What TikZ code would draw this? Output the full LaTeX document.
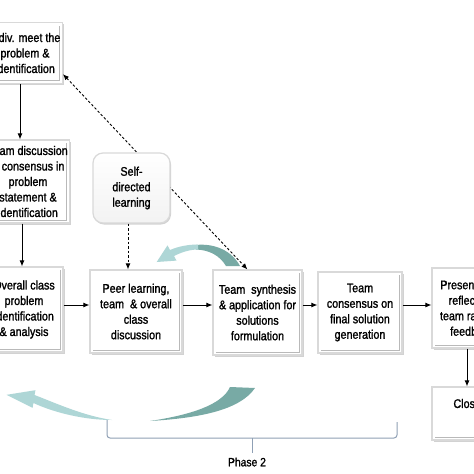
\documentclass[tikz,border=0pt]{standalone}
\usepackage{fontspec}
\newfontfamily\boxfont{Liberation Sans}[FakeStretch=0.86,FakeBold=1.4]
\usetikzlibrary{arrows.meta,shadows,calc}
\definecolor{tealdark}{HTML}{78AAA5}
\definecolor{teallight}{HTML}{AED6D6}
\definecolor{bracecol}{HTML}{8FA0B5}
\begin{document}
\begin{tikzpicture}[x=1pt,y=-1pt,
  box/.style={rectangle, draw=gray!30, line width=1.2pt, fill=white, align=center,
    inner sep=2pt, font=\boxfont\fontsize{12.5}{15.5}\selectfont,
    drop shadow={shadow xshift=1.5pt, shadow yshift=-1.5pt, opacity=0.35, fill=gray},
    path picture={\draw[gray!55, line width=1pt]
      ([shift={(3pt,3pt)}]path picture bounding box.south west) --
      ([shift={(-3pt,3pt)}]path picture bounding box.south east) --
      ([shift={(-3pt,-3pt)}]path picture bounding box.north east);}},
  selfbox/.style={rectangle, rounded corners=10pt, draw=gray!30, line width=1.2pt,
    top color=white, bottom color=gray!10, align=center, inner sep=2pt,
    font=\boxfont\fontsize{12.5}{15.5}\selectfont,
    drop shadow={shadow xshift=1pt, shadow yshift=-1.5pt, opacity=0.35, fill=gray}},
  arr/.style={line width=0.9pt, -{Latex[length=6pt,width=5pt]}},
  dsh/.style={line width=0.9pt, dash pattern=on 2.5pt off 2pt},
  brace/.style={draw=bracecol, line width=1pt}]
\useasboundingbox (0,0) rectangle (474,474);
\clip (0,0) rectangle (474,474);
\fill[white] (0,0) rectangle (474,474);

% curved arrows
\fill[tealdark] (196,245) .. controls (215,243) and (232,251) .. (240,266) -- (226,266)
   .. controls (220,256) and (210,250) .. (196,249.5) -- cycle;
\fill[teallight] (198,244.5) .. controls (188,244.5) and (178,246.5) .. (170,250)
   -- (167.5,245.4) -- (156.7,262) -- (176.5,260.6) -- (174,256)
   .. controls (182,252) and (190,249.5) .. (198,249.5) -- cycle;
\fill[tealdark] (230,387) -- (255,388) .. controls (240,410) and (200,418) .. (150,421)
   .. controls (190,415) and (222,405) .. (230,387) -- cycle;
\fill[teallight] (6.6,394.8) -- (35.4,390.2) -- (34.6,395)
   .. controls (60,405) and (85,416) .. (112,420)
   .. controls (85,420) and (55,413) .. (33.4,403) -- (32.6,407.8) -- cycle;

% boxes
\node[box, minimum width=74pt, minimum height=61pt] (A) at (25,53)
  {Indiv. meet the\\problem \&\\identification};
\node[box, minimum width=78pt, minimum height=83pt] (B) at (28,181.5)
  {Team discussion\\\& consensus in\\problem\\statement \&\\identification};
\node[box, minimum width=78pt, minimum height=85pt] (C) at (24,309.5)
  {Overall class\\problem\\identification\\\& analysis};
\node[box, minimum width=92pt, minimum height=83pt] (D) at (136,311.5)
  {Peer learning,\\team~ \& overall\\class\\discussion};
\node[box, minimum width=89pt, minimum height=85pt] (E) at (257.5,312.5)
  {Team~ synthesis\\\& application for\\solutions\\formulation};
\node[box, minimum width=84pt, minimum height=81pt] (F) at (360,312.5)
  {Team\\consensus on\\final solution\\generation};
\node[box, minimum width=80pt, minimum height=80pt] (G) at (472,308)
  {Presentation,\\reflection,\\team rating \&\\feedback};
\node[box, minimum width=80pt, minimum height=53pt] (H) at (472,413.5)
  {Closure\\\strut};

% dashed double arrow (behind self-directed box)
\draw[dsh, {Latex[length=6pt,width=5pt]}-{Latex[length=6pt,width=5pt]}]
  ($(A.south east)+(0,-10)$) -- ($(E.north west)+(35,0)$);

\node[selfbox, minimum width=77pt, minimum height=70pt] (S) at (131.5,188)
  {Self-\\directed\\learning};

% arrows
\draw[arr] ([xshift=-5pt]A.south) -- ([xshift=-5pt]A.south |- B.north);
\draw[arr] ([xshift=-6pt]B.south) -- ([xshift=-6pt]B.south |- C.north);
\draw[dsh, -{Latex[length=6pt,width=5pt]}] ([xshift=-3.5pt]S.south) -- ([xshift=-3.5pt]S.south |- D.north);
\coordinate (r) at (0,305);
\draw[arr] (C.east |- r) -- (D.west |- r);
\draw[arr] (D.east |- r) -- (E.west |- r);
\draw[arr] (E.east |- r) -- (F.west |- r);
\draw[arr] (F.east |- r) -- (G.west |- r);
\draw[arr] ([xshift=-5pt]G.south) -- ([xshift=-5pt]G.south |- H.north);

% bracket
\draw[brace, rounded corners=3pt] (107,420) -- (107,438) -- (397,438) -- (397,422);
\draw[brace] (252,438) -- (252,453);
\node[font=\boxfont\fontsize{12}{14}\selectfont, inner sep=1pt] (ph) at (247,462) {Phase 2};
\end{tikzpicture}
\end{document}
